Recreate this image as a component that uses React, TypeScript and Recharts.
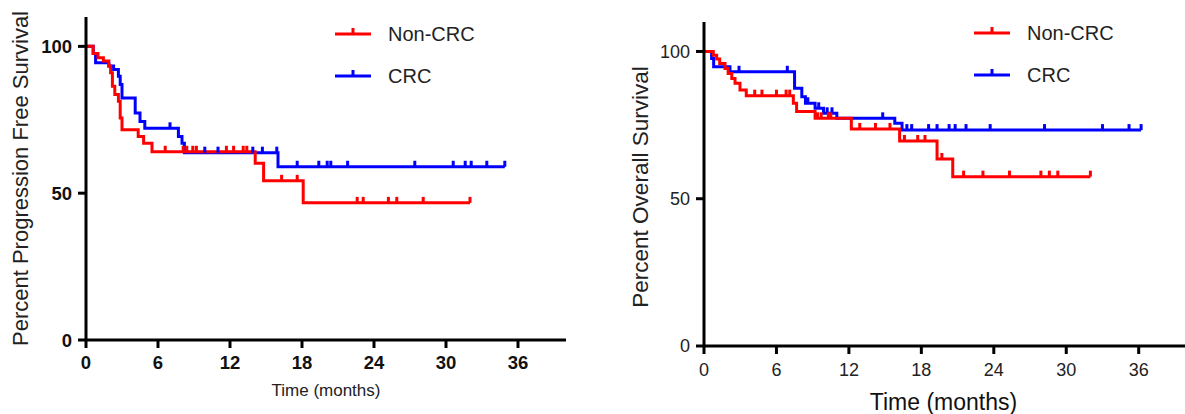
import React from 'react';
import { LineChart, Line, XAxis, YAxis } from 'recharts';

const FONT = 'Arial, "Liberation Sans", Helvetica, sans-serif';
const RED = '#ff0000';
const BLUE = '#0000ff';

const TIME_TICKS = [0, 6, 12, 18, 24, 30, 36];
const SURV_TICKS = [0, 50, 100];

// progression free survival, Non-CRC (events + censored times)
const PFS_NONCRC_T = [0, 0.6, 1.0, 1.45, 1.9, 2.05, 2.2, 2.4, 2.7, 2.85, 3.0, 4.35, 4.8, 5.5, 14.1, 14.8, 18.1];
const PFS_NONCRC_S = [100, 97.6, 96.1, 95, 93.3, 91, 86.4, 83.6, 81.3, 75.6, 71.6, 69.3, 67, 64.1, 60.2, 54.2, 46.7];
const PFS_NONCRC_CENS = [6.6, 8.1, 8.4, 8.9, 9.2, 11.7, 12.3, 13.1, 13.4, 16.3, 17.6, 22.6, 23.1, 25.2, 25.9, 28.1, 32.0];

// progression free survival, CRC
const PFS_CRC_T = [0, 0.6, 0.8, 1.9, 2.3, 2.7, 2.85, 3.0, 4.1, 4.5, 4.9, 7.7, 8.0, 8.2, 16.0];
const PFS_CRC_S = [100, 97.6, 94.4, 93.3, 92.1, 89.8, 87, 82.4, 77.3, 74.4, 72.1, 69.3, 67, 63.8, 59];
const PFS_CRC_CENS = [7.0, 9.9, 11.0, 13.9, 14.7, 15.9, 17.6, 19.4, 20.1, 20.4, 21.8, 27.4, 30.6, 31.6, 32.1, 33.4, 34.9];

// overall survival, Non-CRC
const OS_NONCRC_T = [0, 0.77, 1.05, 1.3, 1.74, 2.0, 2.3, 2.57, 2.98, 3.5, 7.4, 7.67, 9.2, 12.2, 16.2, 19.3, 20.6];
const OS_NONCRC_S = [100, 98.7, 97.4, 95.9, 94.2, 92.5, 90.8, 89.2, 86.9, 85, 82.4, 79.6, 77.3, 73.7, 69.6, 63.5, 57.5];
const OS_NONCRC_CENS = [4.2, 4.8, 6.0, 6.8, 7.1, 9.4, 9.7, 10.3, 10.5, 12.9, 14.2, 15.4, 16.6, 17.7, 18.3, 19.7, 21.5, 23.1, 25.3, 27.9, 28.6, 29.3, 32.0];

// overall survival, CRC
const OS_CRC_T = [0, 0.63, 0.8, 2.15, 7.5, 8.1, 8.4, 9.2, 9.9, 11.0, 15.8, 16.4];
const OS_CRC_S = [100, 97.6, 94.8, 93.1, 87.5, 84.6, 82.4, 80.7, 79.0, 77.3, 75.6, 73.3];
const OS_CRC_CENS = [2.9, 6.9, 8.6, 9.5, 10.2, 10.6, 14.8, 16.8, 17.2, 18.6, 19.3, 20.3, 20.8, 21.7, 23.7, 28.2, 33.0, 35.2, 36.2];

type Pt = { t: number; s: number; c: boolean };

// merge event steps with censored points (censored point sits on the current step)
function buildCurve(times: number[], surv: number[], cens: number[]): Pt[] {
  const pts: Pt[] = times.map((t, i) => ({ t, s: surv[i], c: false }));
  cens.forEach((ct) => {
    let s = surv[0];
    times.forEach((t, i) => {
      if (t <= ct) s = surv[i];
    });
    pts.push({ t: ct, s, c: true });
  });
  return pts.sort((a, b) => a.t - b.t);
}

const censorDot = (color: string) => (props: any) => {
  const { cx, cy, payload, index } = props;
  if (!payload || !payload.c) return <g key={`d-${index}`} />;
  return <rect key={`d-${index}`} x={cx - 1.5} y={cy - 6} width={3} height={6} fill={color} />;
};

const axisLine = { stroke: '#000', strokeWidth: 3 };

function Legend({ left, top }: { left: number; top: number }) {
  const rows = [
    { name: 'Non-CRC', color: RED, y: 0 },
    { name: 'CRC', color: BLUE, y: 42 },
  ];
  return (
    <svg width={200} height={70} style={{ position: 'absolute', left, top }}>
      {rows.map((r) => (
        <g key={r.name}>
          <line x1={0} x2={36} y1={r.y + 12} y2={r.y + 12} stroke={r.color} strokeWidth={3} />
          <rect x={16.5} y={r.y + 6} width={3} height={6} fill={r.color} />
          <text x={53} y={r.y + 12} dominantBaseline="central" fontSize={20} fill="#222" fontFamily={FONT}>
            {r.name}
          </text>
        </g>
      ))}
    </svg>
  );
}

export default function App() {
  const pfsRed = buildCurve(PFS_NONCRC_T, PFS_NONCRC_S, PFS_NONCRC_CENS);
  const pfsBlue = buildCurve(PFS_CRC_T, PFS_CRC_S, PFS_CRC_CENS);
  const osRed = buildCurve(OS_NONCRC_T, OS_NONCRC_S, OS_NONCRC_CENS);
  const osBlue = buildCurve(OS_CRC_T, OS_CRC_S, OS_CRC_CENS);

  return (
    <div style={{ position: 'absolute', left: 0, top: 0, width: 1185, height: 414, overflow: 'hidden', background: '#fff' }}>
      {/* left: progression free survival */}
      <div style={{ position: 'absolute', left: 0, top: 0 }}>
        <LineChart width={590} height={414} margin={{ top: 17, right: 24, bottom: 14, left: 0 }}>
          <XAxis
            type="number"
            dataKey="t"
            domain={[0, 40]}
            ticks={TIME_TICKS}
            allowDataOverflow
            height={60}
            axisLine={axisLine}
            tickLine={axisLine}
            tickSize={8}
            tickMargin={8}
            tick={{ fill: '#111', fontSize: 18.5, fontWeight: 'bold', fontFamily: FONT }}
            label={{
              content: ({ viewBox }: any) => (
                <text x={viewBox.x + viewBox.width / 2} y={viewBox.y + 50} textAnchor="middle" dominantBaseline="central" fontSize={17} fill="#222" fontFamily={FONT}>
                  Time (months)
                </text>
              ),
            }}
          />
          <YAxis
            type="number"
            domain={[0, 110]}
            ticks={SURV_TICKS}
            width={86}
            axisLine={axisLine}
            tickLine={axisLine}
            tickSize={8}
            tickMargin={6}
            tick={{ fill: '#111', fontSize: 18.5, fontWeight: 'bold', fontFamily: FONT }}
            label={{
              content: ({ viewBox }: any) => {
                const cy = viewBox.y + viewBox.height / 2;
                return (
                  <text x={20} y={cy} transform={`rotate(-90 20 ${cy})`} textAnchor="middle" dominantBaseline="central" fontSize={22} fill="#222" fontFamily={FONT}>
                    Percent Progression Free Survival
                  </text>
                );
              },
            }}
          />
          <Line data={pfsBlue} dataKey="s" type="stepAfter" stroke={BLUE} strokeWidth={3} dot={censorDot(BLUE)} activeDot={false} isAnimationActive={false} />
          <Line data={pfsRed} dataKey="s" type="stepAfter" stroke={RED} strokeWidth={3} dot={censorDot(RED)} activeDot={false} isAnimationActive={false} />
        </LineChart>
      </div>

      {/* right: overall survival */}
      <div style={{ position: 'absolute', left: 600, top: 0 }}>
        <LineChart width={590} height={414} margin={{ top: 22, right: 3, bottom: 12, left: 0 }}>
          <XAxis
            type="number"
            dataKey="t"
            domain={[0, 40]}
            ticks={TIME_TICKS}
            allowDataOverflow
            height={56}
            axisLine={axisLine}
            tickLine={axisLine}
            tickSize={8}
            tickMargin={9}
            tick={{ fill: '#222', fontSize: 18, fontFamily: FONT }}
            label={{
              content: ({ viewBox }: any) => (
                <text x={viewBox.x + viewBox.width / 2 - 2} y={viewBox.y + 56} textAnchor="middle" dominantBaseline="central" fontSize={23} fill="#111" fontFamily={FONT}>
                  Time (months)
                </text>
              ),
            }}
          />
          <YAxis
            type="number"
            domain={[0, 110]}
            ticks={SURV_TICKS}
            width={104}
            axisLine={axisLine}
            tickLine={axisLine}
            tickSize={8}
            tickMargin={6}
            tick={{ fill: '#222', fontSize: 18, fontFamily: FONT }}
            label={{
              content: ({ viewBox }: any) => {
                const cy = viewBox.y + viewBox.height / 2 + 3;
                return (
                  <text x={40} y={cy} transform={`rotate(-90 40 ${cy})`} textAnchor="middle" dominantBaseline="central" fontSize={22.5} fill="#222" fontFamily={FONT}>
                    Percent Overall Survival
                  </text>
                );
              },
            }}
          />
          <Line data={osBlue} dataKey="s" type="stepAfter" stroke={BLUE} strokeWidth={3} dot={censorDot(BLUE)} activeDot={false} isAnimationActive={false} />
          <Line data={osRed} dataKey="s" type="stepAfter" stroke={RED} strokeWidth={3} dot={censorDot(RED)} activeDot={false} isAnimationActive={false} />
        </LineChart>
      </div>

      <Legend left={335} top={22} />
      <Legend left={974} top={21} />
    </div>
  );
}
